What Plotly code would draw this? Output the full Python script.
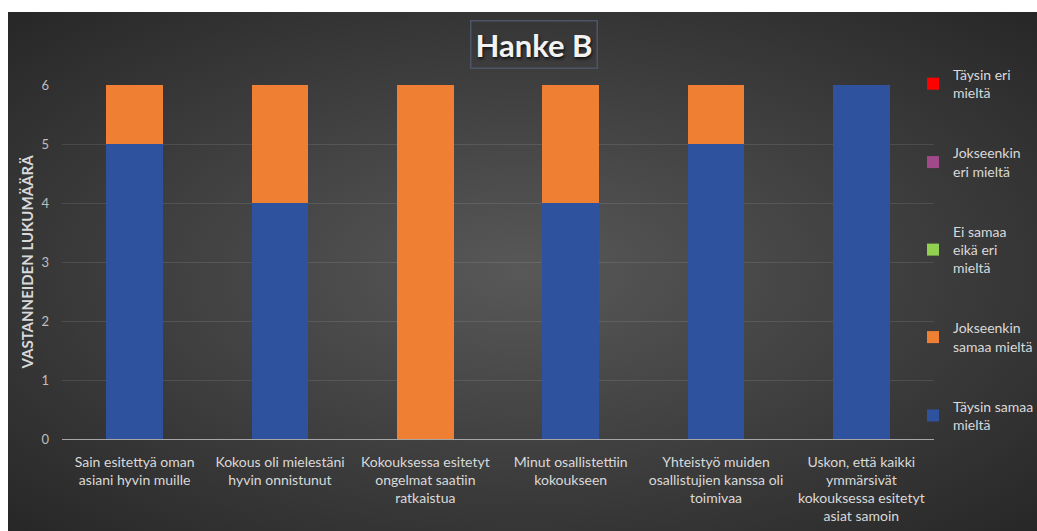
import base64
import plotly.graph_objects as go

categories = [
    "Sain esitettyä oman<br>asiani hyvin muille",
    "Kokous oli mielestäni<br>hyvin onnistunut",
    "Kokouksessa esitetyt<br>ongelmat saatiin<br>ratkaistua",
    "Minut osallistettiin<br>kokoukseen",
    "Yhteistyö muiden<br>osallistujien kanssa oli<br>toimivaa",
    "Uskon, että kaikki<br>ymmärsivät<br>kokouksessa esitetyt<br>asiat samoin",
]
taysin_samaa = [5, 4, 0, 4, 5, 6]
jokseenkin_samaa = [1, 2, 6, 2, 1, 0]
ei_samaa_eika_eri = [0, 0, 0, 0, 0, 0]
jokseenkin_eri = [0, 0, 0, 0, 0, 0]
taysin_eri = [0, 0, 0, 0, 0, 0]

series = [
    ("Täysin samaa<br>mieltä", taysin_samaa, "#2e529e"),
    ("Jokseenkin<br>samaa mieltä", jokseenkin_samaa, "#ef8033"),
    ("Ei samaa<br>eikä eri<br>mieltä", ei_samaa_eika_eri, "#92d050"),
    ("Jokseenkin<br>eri mieltä", jokseenkin_eri, "#a2498a"),
    ("Täysin eri<br>mieltä", taysin_eri, "#ff0000"),
]

W, H = 1037, 531
ml, mr, mt, mb = 62, 103, 85, 92
pw, ph = W - ml - mr, H - mt - mb

def px_x(p):
    return (p - ml) / pw

def px_y(p):
    return (H - mb - p) / ph

FONT = "Lato, 'Open Sans', sans-serif"

fig = go.Figure()
n = len(series)
for i, (name, vals, col) in enumerate(series):
    fig.add_trace(go.Bar(
        x=categories, y=vals, name=name, legendgroup=f"g{i}",
        legendrank=n - i,
        marker=dict(color=col, line=dict(width=0)),
    ))

svg = (
    '<svg xmlns="http://www.w3.org/2000/svg" width="1029" height="519" '
    'viewBox="0 0 1029 519" preserveAspectRatio="none"><defs>'
    '<radialGradient id="g" cx="50%" cy="50%" r="72%">'
    '<stop offset="0%" stop-color="#585858"/>'
    '<stop offset="100%" stop-color="#262626"/>'
    '</radialGradient></defs><rect width="1029" height="519" fill="url(#g)"/></svg>'
)
src = "data:image/svg+xml;base64," + base64.b64encode(svg.encode()).decode()

fig.update_layout(
    template="none",
    width=W, height=H,
    margin=dict(l=ml, r=mr, t=mt, b=mb, autoexpand=False),
    paper_bgcolor="white",
    plot_bgcolor="rgba(0,0,0,0)",
    barmode="stack",
    bargap=0.61,
    font=dict(family=FONT, color="#d9d9d9"),
    images=[dict(
        source=src, xref="paper", yref="paper",
        x=px_x(8), y=px_y(12), sizex=(W - 8) / pw, sizey=(H - 12) / ph,
        xanchor="left", yanchor="top", sizing="stretch", layer="below",
    )],
    annotations=[dict(
        text="<b>Hanke B</b>", xref="paper", yref="paper",
        x=px_x(534), y=px_y(44), xanchor="center", yanchor="middle",
        showarrow=False,
        font=dict(family=FONT, size=31, color="#f2f2f2", shadow="1px 2px 3px #111"),
        bordercolor="#4c5468", borderwidth=1.5, borderpad=4,
    )],
    legend=dict(
        x=px_x(913), y=px_y(59), xanchor="left", yanchor="top",
        traceorder="grouped", tracegroupgap=39, maxheight=480,
        font=dict(family=FONT, size=14, color="#d9d9d9"),
        bgcolor="rgba(0,0,0,0)", borderwidth=0,
    ),
    xaxis=dict(
        automargin=False, showgrid=False, showline=True, linecolor="#a6a6a6",
        linewidth=1, ticks="", ticklabelstandoff=10,
        tickfont=dict(family=FONT, size=14, color="#d9d9d9"),
        zeroline=False,
    ),
    yaxis=dict(
        automargin=False, range=[0, 6], dtick=1, showgrid=True,
        gridcolor="rgba(255,255,255,0.10)", gridwidth=1, zeroline=False,
        showline=False, ticks="", ticklabelstandoff=12,
        tickfont=dict(family=FONT, size=13, color="#bfbfbf"),
        title=dict(text="<b>VASTANNEIDEN LUKUMÄÄRÄ</b>", standoff=4,
                   font=dict(family=FONT, size=15, color="#d9d9d9")),
    ),
    hovermode=False,
)

fig.write_html("out.html")
